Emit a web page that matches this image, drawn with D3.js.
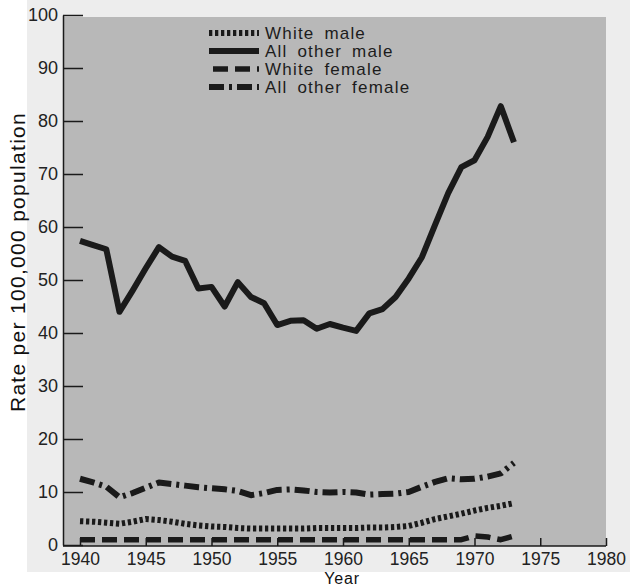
<!DOCTYPE html>
<html>
<head>
<meta charset="utf-8">
<script src="https://cdn.jsdelivr.net/npm/d3@7"></script>
<style>
  html, body { margin: 0; padding: 0; background: #ffffff; }
  svg { display: block; font-family: "Liberation Sans", Arial, Helvetica, sans-serif; }
</style>
</head>
<body>
<svg id="chart" width="630" height="587"></svg>
<script>
// Yearly rates per 100,000 population, 1940–1973
const years = d3.range(1940, 1974);

const whiteMale = [4.5, 4.4, 4.2, 4.0, 4.4, 4.9, 4.7, 4.4, 4.0, 3.7,
                   3.5, 3.4, 3.2, 3.1, 3.1, 3.1, 3.1, 3.1, 3.2, 3.2,
                   3.2, 3.2, 3.3, 3.3, 3.4, 3.6, 4.2, 4.9, 5.4, 5.9,
                   6.5, 7.0, 7.4, 7.9];

const allOtherMale = [57.4, 56.6, 55.8, 44.0, 48.0, 52.2, 56.2, 54.4, 53.6, 48.4,
                      48.7, 45.0, 49.6, 46.8, 45.6, 41.5, 42.3, 42.4, 40.8, 41.7,
                      41.0, 40.4, 43.7, 44.5, 46.8, 50.3, 54.3, 60.4, 66.4, 71.3,
                      72.6, 77.0, 82.8, 76.0];

const whiteFemale = [1.0, 1.0, 1.0, 1.0, 1.0, 1.0, 1.0, 1.0, 1.0, 1.0,
                     1.0, 1.0, 1.0, 1.0, 1.0, 1.0, 1.0, 1.0, 1.0, 1.0,
                     1.0, 1.0, 1.0, 1.0, 1.0, 1.0, 1.0, 1.0, 1.0, 1.0,
                     1.7, 1.5, 1.0, 1.7];

const allOtherFemale = [12.5, 11.8, 11.0, 9.0, 9.8, 10.8, 11.8, 11.5, 11.2, 10.9,
                        10.7, 10.5, 10.2, 9.4, 9.8, 10.4, 10.5, 10.3, 10.0, 9.9,
                        10.0, 9.9, 9.5, 9.6, 9.7, 10.0, 11.0, 11.9, 12.6, 12.4,
                        12.5, 12.9, 13.5, 15.5];

const seriesNames = ["White male", "All other male", "White female", "All other female"];
const yTicks = [0, 10, 20, 30, 40, 50, 60, 70, 80, 90, 100];
const xTicks = [1940, 1945, 1950, 1955, 1960, 1965, 1970, 1975, 1980];

// Stroke styles for each series
const styles = {
  "White male":       { width: 6,   dash: "3.3,2.7" },
  "All other male":   { width: 6,   dash: null },
  "White female":     { width: 5.5, dash: "15,7" },
  "All other female": { width: 6,   dash: "15,5,3,5" }
};

const seriesData = [whiteMale, allOtherMale, whiteFemale, allOtherFemale];

const svg = d3.select("#chart");
const ink = "#1a1a1a";

const x = d3.scaleLinear().domain([1940, 1980]).range([80, 606]);
const y = d3.scaleLinear().domain([0, 100]).range([545, 15]);
const plotLeft = 63;

// Paper tone behind the figure
svg.append("rect")
  .attr("x", 27).attr("y", 0).attr("width", 603).attr("height", 572)
  .attr("fill", "#ededed");

// Shaded plot panel
svg.append("rect")
  .attr("x", plotLeft).attr("y", y(100) + 2)
  .attr("width", x(1980) - plotLeft).attr("height", y(0) + 1 - (y(100) + 2))
  .attr("fill", "#b8b8b8");

// Y axis
const yAxis = svg.append("g")
  .attr("transform", `translate(${plotLeft},0)`)
  .call(d3.axisLeft(y).tickValues(yTicks).tickSize(-20).tickSizeOuter(0).tickPadding(5));
yAxis.select(".domain").attr("stroke", ink).attr("stroke-width", 1.5);
yAxis.selectAll(".tick line").attr("stroke", ink).attr("stroke-width", 1.5);
yAxis.selectAll(".tick text")
  .attr("fill", "#222").attr("font-size", 18).attr("font-family", null);

// X axis
const xAxis = svg.append("g")
  .attr("transform", `translate(0,${y(0) + 1})`)
  .call(d3.axisBottom(x).tickValues(xTicks).tickFormat(d3.format("d"))
    .tickSize(-8).tickSizeOuter(0).tickPadding(7));
xAxis.select(".domain").attr("d", `M${plotLeft},0H${x(1980)}`)
  .attr("stroke", ink).attr("stroke-width", 1.5);
xAxis.selectAll(".tick line").attr("stroke", ink).attr("stroke-width", 1.5);
xAxis.selectAll(".tick text")
  .attr("fill", "#222").attr("font-size", 17.5).attr("font-family", null);

// Series lines
const line = d3.line()
  .x((d, i) => x(years[i]))
  .y(d => y(d));

seriesNames.forEach((name, k) => {
  const s = styles[name];
  svg.append("path")
    .datum(seriesData[k])
    .attr("d", line)
    .attr("fill", "none")
    .attr("stroke", ink)
    .attr("stroke-width", s.width)
    .attr("stroke-linejoin", "round")
    .attr("stroke-dasharray", s.dash);
});

// Legend
const legend = svg.append("g");
const legendRowY = [33, 51, 69, 87];
seriesNames.forEach((name, k) => {
  const s = styles[name];
  const row = legend.append("g").attr("transform", `translate(0,${legendRowY[k]})`);
  row.append("line")
    .attr("x1", 209).attr("x2", 259).attr("y1", 0).attr("y2", 0)
    .attr("stroke", ink)
    .attr("stroke-width", s.width)
    .attr("stroke-dasharray", s.dash)
    .attr("stroke-dashoffset", name === "White female" ? -4 : 0);
  row.append("text")
    .attr("x", 265).attr("y", 6)
    .attr("font-size", 17)
    .attr("letter-spacing", 1.2)
    .attr("word-spacing", 4)
    .attr("fill", "#1c1c1c")
    .text(name);
});

// Axis titles
svg.append("text")
  .attr("transform", "translate(25,262) rotate(-90)")
  .attr("text-anchor", "middle")
  .attr("font-size", 21)
  .attr("letter-spacing", 1.3)
  .attr("fill", "#111")
  .text("Rate per 100,000 population");

svg.append("text")
  .attr("x", 342).attr("y", 583.5)
  .attr("text-anchor", "middle")
  .attr("font-size", 16)
  .attr("letter-spacing", 0.8)
  .attr("fill", "#111")
  .text("Year");
</script>
</body>
</html>
